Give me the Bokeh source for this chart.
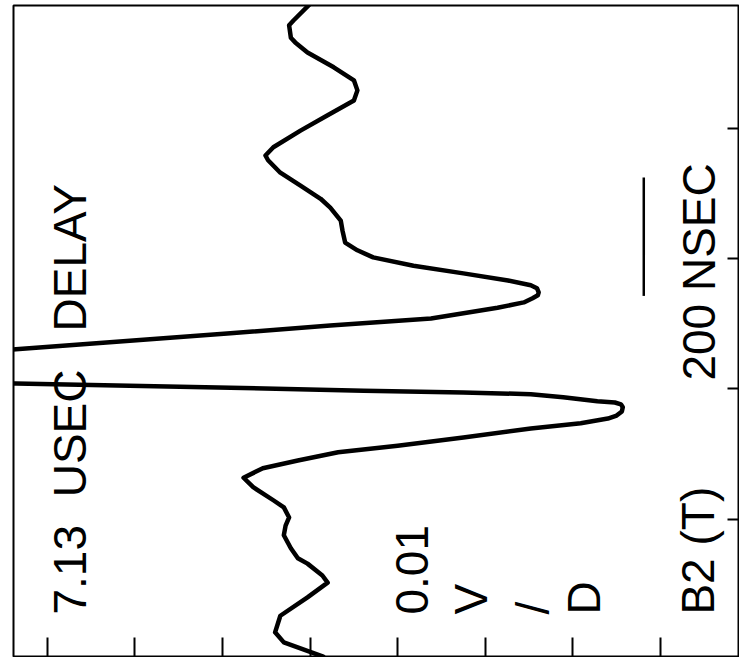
from bokeh.plotting import figure
from bokeh.models import Range1d, FixedTicker, Label
from bokeh.embed import file_html
from bokeh.resources import INLINE

# ---- data ----
# time in ns (after the 7.13 usec delay), amplitude in mV (0.01 V / division)
time_ns = [-12, 12, 29, 57, 88, 113, 125, 145, 154, 171, 193, 209, 223, 240, 252,
           274, 290, 306, 319, 333, 344, 358, 373, 382, 390, 395, 402, 409, 414,
           417, 419, 426, 431, 434, 437, 442, 449, 464, 507, 534, 547, 559, 577,
           586, 593, 598, 603, 610, 615, 623, 635, 648, 662, 674, 687, 707, 724,
           746, 761, 783, 805, 826, 834, 848, 876, 902, 927, 944, 961, 983, 1008,
           1025, 1033, 1054, 1062, 1096]
signal_mv = [-1.5, 3.0, 4.0, 3.4, 0.3, -2.0, -1.4, 0.3, 1.4, 2.2, 3.0, 2.8, 2.4,
             3.0, 4.2, 6.5, 7.6, 5.4, 1.4, -3.2, -10.0, -17.5, -25.2, -30.9,
             -34.0, -35.0, -35.6, -35.7, -35.5, -34.8, -32.8, -28.9, -25.2,
             -17.5, -6.1, 9.1, 33.6, 71.9, 33.6, 9.1, -2.3, -13.8, -21.4, -24.4,
             -25.4, -26.0, -26.1, -25.9, -25.2, -22.6, -17.5, -11.8, -7.2, -5.4,
             -4.0, -3.7, -3.5, -2.3, -1.2, 1.1, 3.4, 4.8, 5.1, 4.2, 1.1, -2.0,
             -5.0, -5.4, -5.0, -2.7, 0.3, 1.7, 2.2, 2.4, 1.9, -0.4]

amp_ticks_mv = [30, 20, 10, 0, -10, -20, -30, -40]   # 0.01 V per division
time_ticks_ns = [220, 440, 660, 880]
scale_bar_ns = 200
scale_bar_start_ns = 597

delay_words = ["7.13", "USEC", "DELAY"]
scale_lines = ["0.01", "V", "/", "D"]
channel_label = "B2 (T)"
scale_bar_label = "200 NSEC"

FONT = "Liberation Sans"
FSIZE = "46px"

p = figure(frame_width=726, frame_height=652,
           x_range=Range1d(33.87, -49.03), y_range=Range1d(-13.5, 1087.3),
           x_axis_location="below", y_axis_location="right",
           output_backend="svg", toolbar_location=None,
           min_border_left=13, min_border_right=0, min_border_top=5, min_border_bottom=0,
           background_fill_color="white", border_fill_color="white")
p.grid.visible = False
p.outline_line_color = "black"
p.outline_line_width = 2

for ax, ticks, tin in ((p.xaxis[0], amp_ticks_mv, 20), (p.yaxis[0], time_ticks_ns, 12)):
    ax.ticker = FixedTicker(ticks=ticks)
    ax.major_tick_in = tin
    ax.major_tick_out = 0
    ax.minor_tick_in = 0
    ax.minor_tick_out = 0
    ax.major_tick_line_color = "black"
    ax.major_tick_line_width = 2
    ax.axis_line_color = "black"
    ax.axis_line_width = 2
    ax.major_label_text_font_size = "0px"
    ax.major_label_standoff = 0
    ax.major_label_overrides = {t: "" for t in ticks}

p.line(signal_mv, time_ns, line_color="black", line_width=4.5, line_join="round",
       line_cap="round")

# scale bar
p.segment(x0=[-38.1], y0=[scale_bar_start_ns], x1=[-38.1],
          y1=[scale_bar_start_ns + scale_bar_ns], line_color="black", line_width=2.5)

def lab(x, y, txt):
    p.add_layout(Label(x=x, y=y, text=txt, angle=90, angle_units="deg",
                       text_align="left", text_baseline="alphabetic",
                       text_font=FONT, text_font_size=FSIZE, text_color="black"))

for word, t in zip(delay_words, [59, 257, 537]):
    lab(27.4, t, word)
for line, a in zip(scale_lines, [-11.6, -18.4, -25.5, -31.3]):
    lab(a, 59, line)
lab(-44.3, 59, channel_label)
lab(-44.4, 454, scale_bar_label)

open("out.html", "w").write(file_html(p, INLINE))
